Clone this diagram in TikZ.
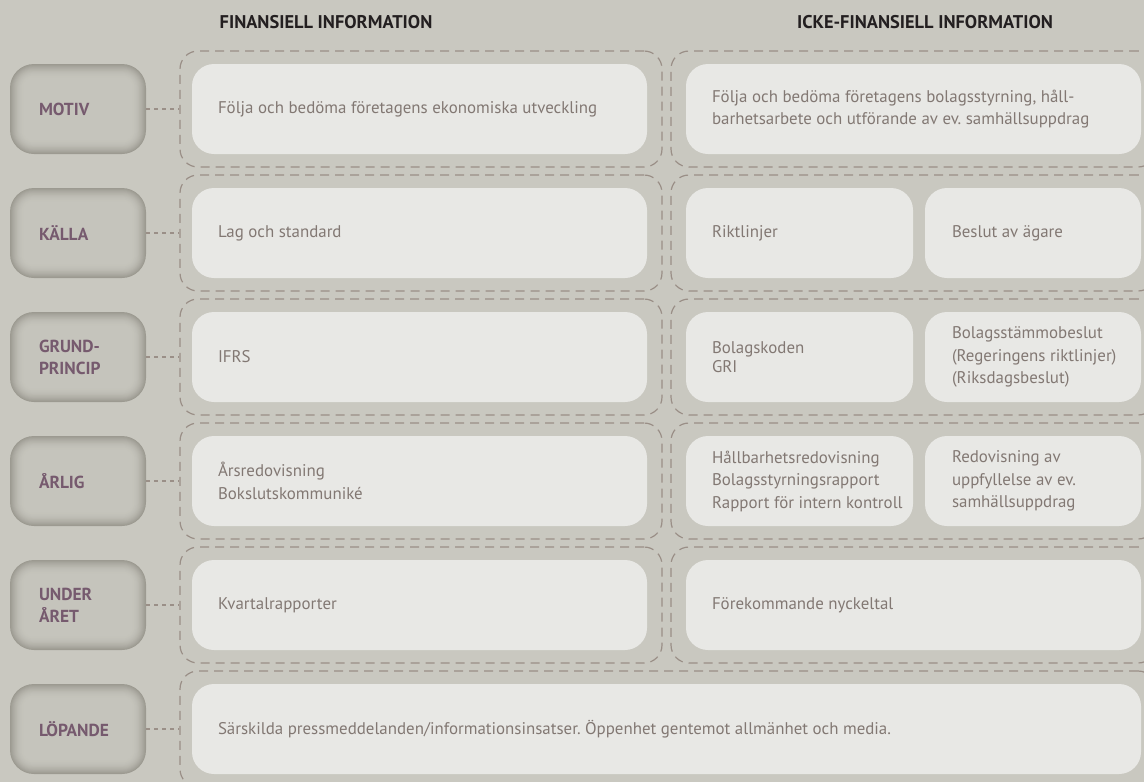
\documentclass[tikz,border=0pt]{standalone}
\usepackage{fontspec}
\setmainfont{PT Sans}
\frenchspacing
\definecolor{bgc}{HTML}{C9C8C0}
\definecolor{wfill}{HTML}{E8E8E5}
\definecolor{txtc}{HTML}{827873}
\definecolor{labc}{HTML}{765A6E}
\definecolor{dashc}{HTML}{9A8F87}
\definecolor{headc}{HTML}{231F20}
\definecolor{pilDark}{HTML}{9C9A91}
\definecolor{pilLight}{HTML}{C5C4BC}
\newcommand{\bodyfnt}{\fontsize{16.9pt}{22.5pt}\selectfont}
\newcommand{\labfnt}{\fontsize{17.4pt}{22pt}\selectfont\bfseries}
\newcommand{\headfnt}{\fontsize{18.4pt}{20pt}\selectfont\bfseries}
\newcommand{\pillow}[2]{%
  \foreach \i in {0,...,16}{%
    \pgfmathsetmacro\pp{100*(1-\i/16)^2}%
    \pgfmathsetmacro\rr{max(24-\i,5)}%
    \fill[pilDark!\pp!pilLight, rounded corners=\rr pt] (#1-68+0.9*\i,#2-45+0.9*\i) rectangle (#1+68-0.9*\i,#2+45-0.9*\i);
  }}
\begin{document}
\begin{tikzpicture}[x=1pt,y=-1pt,
  grp/.style={draw=dashc, dash pattern=on 9pt off 6pt, line width=1.2pt, rounded corners=18pt, minimum height=116pt, inner sep=0pt},
  wbox/.style={fill=wfill, rounded corners=22pt, minimum height=90pt, inner sep=0pt},
  wtxt/.style={anchor=west, inner sep=0pt, align=left, text=txtc, font=\bodyfnt},
  labbox/.style={minimum height=90pt, inner xsep=29pt, inner ysep=0pt, text width=78pt, align=left, text=labc, font=\labfnt},
  conn/.style={draw=dashc, dash pattern=on 4pt off 4pt, line width=1.2pt},
  head/.style={text=headc, font=\headfnt, inner sep=0pt}
]
\fill[bgc] (0,0) rectangle (1144,782);
\useasboundingbox (0,0) rectangle (1144,782);

% headers
\node[head] (h1) at (326,22) {FINANSIELL INFORMATION};
\node[head] (h2) at (925,22) {ICKE-FINANSIELL INFORMATION};

% dashed groups
\foreach \r/\c in {1/109,2/233,3/357,4/481,5/605}{
  \node[grp, minimum width=482pt] (gl\r) at (421,\c) {};
  \node[grp, minimum width=485pt] (gr\r) at (913.5,\c) {};
}
\node[grp, minimum width=976pt] (gl6) at (668,729) {};

% label pillows
\foreach \c in {109,233,357,481,605,729}{\pillow{78}{\c}}
\node[labbox] (l1) at (78,109) {MOTIV};
\node[labbox] (l2) at (78,233) {KÄLLA};
\node[labbox] (l3) at (78,357) {GRUND-\\PRINCIP};
\node[labbox] (l4) at (78,481) {ÅRLIG};
\node[labbox] (l5) at (78,605) {UNDER\\ÅRET};
\node[labbox] (l6) at (78,729) {LÖPANDE};

\foreach \r in {1,...,6}{\draw[conn] (l\r.east) -- (gl\r.west);}

% boxes
\foreach \n/\x/\y/\w in {a1/419.5/109/455, b1/913.5/109/455,
  a2/419.5/233/455, b2/799.5/233/227, c2/1033/233/216,
  a3/419.5/357/455, b3/799.5/357/227, c3/1033/357/216,
  a4/419.5/481/455, b4/799.5/481/227, c4/1033/481/216,
  a5/419.5/605/455, b5/913.5/605/455,
  a6/666.5/729/949}{
  \node[wbox, minimum width=\w pt] (\n) at (\x,\y) {};
}
% texts
\node[wtxt] (ta1) at ([xshift=26pt]a1.west) {Följa och bedöma företagens ekonomiska utveckling};
\node[wtxt] (tb1) at ([xshift=26pt]b1.west) {Följa och bedöma företagens bolagsstyrning, håll-\\barhetsarbete och utförande av ev. samhällsuppdrag};
\node[wtxt] (ta2) at ([xshift=26pt]a2.west) {Lag och standard};
\node[wtxt] (tb2) at ([xshift=26pt]b2.west) {Riktlinjer};
\node[wtxt] (tc2) at ([xshift=27pt]c2.west) {Beslut av ägare};
\node[wtxt] (ta3) at ([xshift=26pt]a3.west) {IFRS};
\node[wtxt] (tb3) at ([xshift=26pt]b3.west) {Bolagskoden\\[-4pt]GRI};
\node[wtxt] (tc3) at ([xshift=27pt]c3.west) {Bolagsstämmobeslut\\(Regeringens riktlinjer)\\(Riksdagsbeslut)};
\node[wtxt] (ta4) at ([xshift=26pt]a4.west) {Årsredovisning\\Bokslutskommuniké};
\node[wtxt] (tb4) at ([xshift=26pt]b4.west) {Hållbarhetsredovisning\\Bolagsstyrningsrapport\\Rapport för intern kontroll};
\node[wtxt] (tc4) at ([xshift=27pt]c4.west) {Redovisning av\\uppfyllelse av ev.\\samhällsuppdrag};
\node[wtxt] (ta5) at ([xshift=26pt]a5.west) {Kvartalrapporter};
\node[wtxt] (tb5) at ([xshift=26pt]b5.west) {Förekommande nyckeltal};
\node[wtxt] (ta6) at ([xshift=26pt]a6.west) {Särskilda pressmeddelanden/informationsinsatser. Öppenhet gentemot allmänhet och media.};
\end{tikzpicture}
\end{document}
